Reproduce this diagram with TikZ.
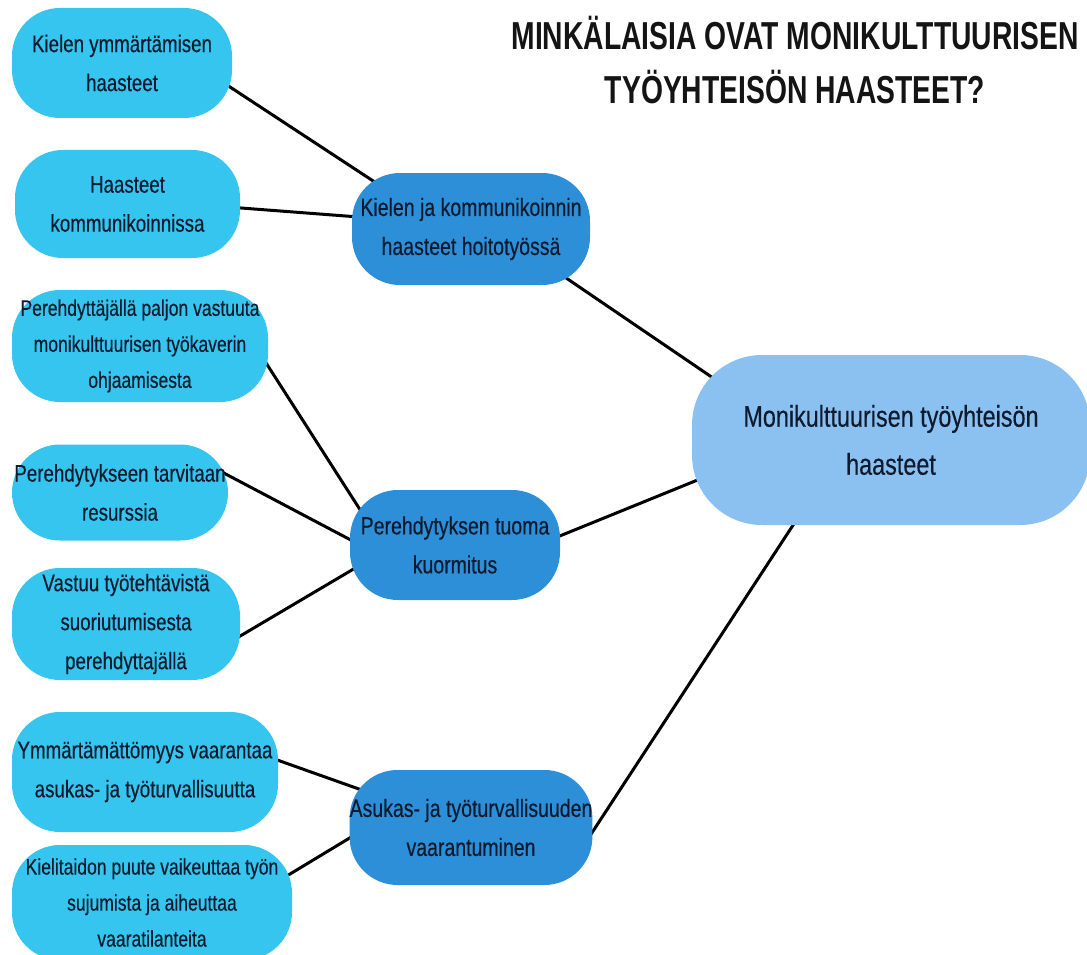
\documentclass[tikz,border=0pt]{standalone}
\usepackage{fontspec}
\setmainfont{Liberation Sans}[FakeStretch=0.78, FakeBold=0.3]
\newfontfamily\titlefont{Liberation Sans}[FakeStretch=0.725]
\usetikzlibrary{backgrounds}
\definecolor{leafc}{HTML}{36C5EE}
\definecolor{midc}{HTML}{2D8FD8}
\definecolor{rootc}{HTML}{8BC1F0}
\definecolor{txt}{HTML}{0E1A2E}
\begin{document}
\begin{tikzpicture}[x=1pt,y=-1pt,
  box/.style={rectangle, rounded corners=48pt, inner sep=0pt, align=center, text=txt},
  leaf/.style={box, fill=leafc, font=\fontsize{24}{39}\selectfont},
  leafs/.style={box, fill=leafc, font=\fontsize{22.5}{36}\selectfont},
  mid/.style={box, fill=midc, font=\fontsize{25}{39}\selectfont},
  rootbox/.style={box, fill=rootc, rounded corners=70pt, font=\fontsize{30}{48}\selectfont},
  link/.style={line width=3pt, black, shorten <=-25pt, shorten >=-25pt}]
\useasboundingbox (0,0) rectangle (1087,955);

\node[font=\titlefont\fontsize{39}{54}\selectfont\bfseries, align=center, text=black!92, inner sep=0pt] (title) at (795,60) {MINKÄLAISIA OVAT MONIKULTTUURISEN\\TYÖYHTEISÖN HAASTEET?};

\node[leaf, minimum width=220pt, minimum height=110pt] (l1) at (122,63) {Kielen ymmärtämisen\\haasteet};
\node[leaf, minimum width=225pt, minimum height=108pt] (l2) at (127.5,204) {Haasteet\\kommunikoinnissa};
\node[leafs, minimum width=256pt, minimum height=112pt] (l3) at (140,346) {Perehdyttäjällä paljon vastuuta\\monikulttuurisen työkaverin\\ohjaamisesta};
\node[leaf, minimum width=216pt, minimum height=96pt] (l4) at (120,492.5) {Perehdytykseen tarvitaan\\resurssia};
\node[leaf, minimum width=228pt, minimum height=112pt] (l5) at (126,624) {Vastuu työtehtävistä\\suoriutumisesta\\perehdyttajällä};
\node[leaf, minimum width=266pt, minimum height=120pt] (l6) at (145,772) {Ymmärtämättömyys vaarantaa\\asukas- ja työturvallisuutta};
\node[leafs, minimum width=280pt, minimum height=115pt] (l7) at (152,902.5) {Kielitaidon puute vaikeuttaa työn\\sujumista ja aiheuttaa\\vaaratilanteita};

\node[mid, minimum width=238pt, minimum height=112pt] (m1) at (471,229) {Kielen ja kommunikoinnin\\haasteet hoitotyössä};
\node[mid, minimum width=210pt, minimum height=110pt] (m2) at (455,545) {Perehdytyksen tuoma\\kuormitus};
\node[mid, minimum width=242pt, minimum height=115pt] (m3) at (471,827.5) {Asukas- ja työturvallisuuden\\vaarantuminen};

\node[rootbox, minimum width=398pt, minimum height=170pt] (r) at (891,440) {Monikulttuurisen työyhteisön\\haasteet};

\begin{scope}[on background layer]
\fill[white] (0,0) rectangle (1087,955);
\draw[link] (l1.347.2) -- (m1.153);
\draw[link] (l2.358) -- (m1.174);
\draw[link] (m1.332) -- (r.159.8);
\draw[link] (l3.351.6) -- (m2.154.1);
\draw[link] (l4.9.2) -- (m2.177.3);
\draw[link] (l5.354) -- (m2.194.4);
\draw[link] (m2.5.4) -- (r.192.5);
\draw[link] (l6.5.1) -- (m3.161.2);
\draw[link] (l7.12.2) -- (m3.185.5);
\draw[link] (m3.358.8) -- (r.221.8);
\end{scope}
\end{tikzpicture}
\end{document}
